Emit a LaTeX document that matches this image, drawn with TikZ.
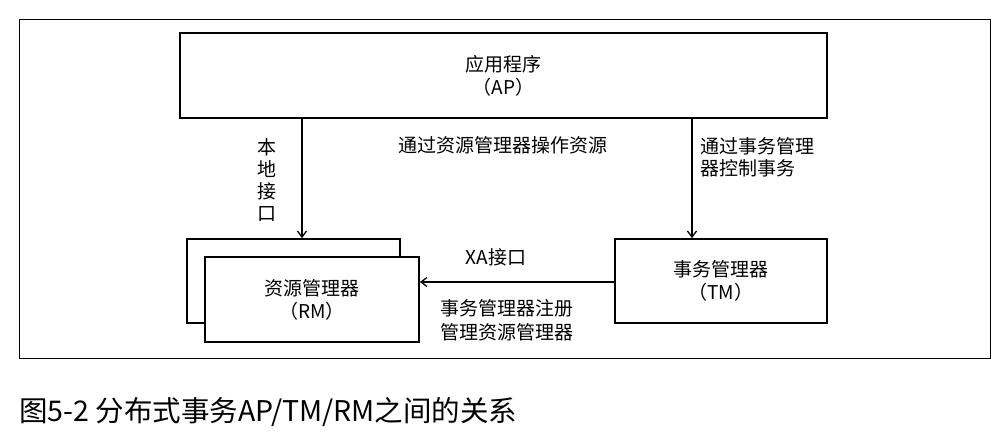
\documentclass[tikz,border=0pt]{standalone}
\usepackage{fontspec}
\setmainfont{Noto Sans CJK SC}
\usetikzlibrary{arrows.meta}
\begin{document}
\begin{tikzpicture}[x=1pt,y=-1pt,
  box/.style={draw, line width=1.8pt, fill=white, inner sep=0pt, align=center,
    font=\fontsize{19}{23}\selectfont},
  lbl/.style={inner sep=0pt, font=\fontsize{19}{22}\selectfont},
  arr/.style={line width=1.3pt, -{Straight Barb[length=6pt,width=9pt]}}]
\useasboundingbox (0,0) rectangle (1002,434);
\fill[white] (0,0) rectangle (1002,434);
\draw[line width=0.8pt] (19,19) rectangle (990,358);
% boxes
\node[box, minimum width=647pt, minimum height=85pt] (ap) at (503.5,75.5) {应用程序\\（AP）};
\node[box, minimum width=213pt, minimum height=84pt] (rmback) at (293.5,281) {};
\node[box, minimum width=214pt, minimum height=85pt] (rm) at (312,299.5) {资源管理器\\（RM）};
\node[box, minimum width=212pt, minimum height=84pt] (tm) at (721,281) {事务管理器\\（TM）};
% connectors
\coordinate (a1) at (302,0);
\coordinate (a2) at (692,0);
\coordinate (a3) at (0,282);
\draw[arr] (ap.south -| a1) -- (rmback.north -| a1);
\draw[arr] (ap.south -| a2) -- (tm.north -| a2);
\draw[arr] (tm.west |- a3) -- (rm.east |- a3);
% labels
\node[lbl, align=center] (l1) at (267,180) {本\\地\\接\\口};
\node[lbl] (l2) at (503,145) {通过资源管理器操作资源};
\node[lbl, align=left, anchor=west] (l3) at (700,157.5) {通过事务管理\\器控制事务};
\node[lbl] (l4) at (496,257) {XA接口};
\node[lbl, align=left, anchor=west, font=\fontsize{19}{24}\selectfont] (l5) at (440,320) {事务管理器注册\\管理资源管理器};
% caption
\node[inner sep=0pt, anchor=west, font=\fontsize{28.5}{33}\selectfont] (cap) at (19,412) {图5-2 分布式事务AP/TM/RM之间的关系};
\end{tikzpicture}
\end{document}
